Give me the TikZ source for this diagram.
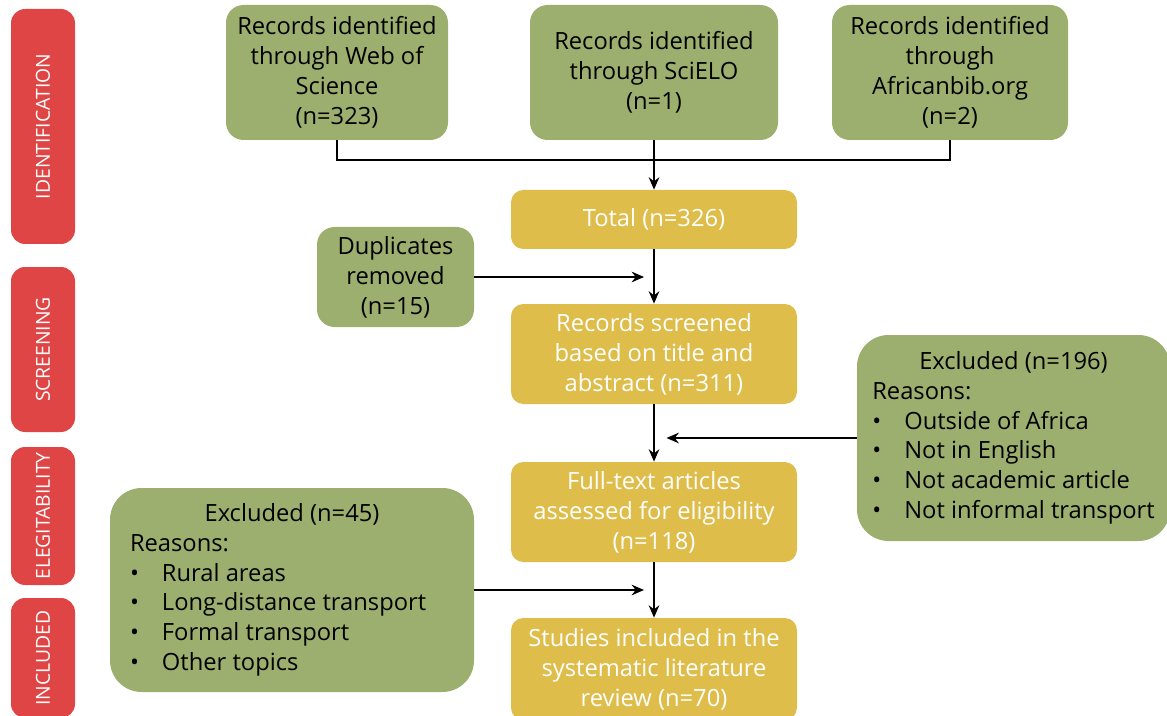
\documentclass[tikz,border=0pt]{standalone}
\usepackage{fontspec}
\setmainfont{Open Sans}
\usetikzlibrary{arrows.meta}
\definecolor{stagered}{HTML}{E04545}
\definecolor{boxgreen}{HTML}{9DAF6E}
\definecolor{boxyellow}{HTML}{DEBD4B}
\begin{document}
\begin{tikzpicture}[>={Stealth[length=7pt,width=6pt]}, font=\fontsize{13.5}{17}\selectfont,
  stage/.style={fill=stagered, rounded corners=8pt, minimum width=1.28cm, text=white,
    font=\fontsize{11}{13}\selectfont, inner sep=0pt},
  greenbox/.style={fill=boxgreen, rounded corners=10pt, align=center, inner sep=2pt},
  yellowbox/.style={fill=boxyellow, rounded corners=7pt, align=center, text=white,
    minimum width=5.72cm, inner sep=2pt},
  bigbox/.style={fill=boxgreen, rounded corners=18pt, inner sep=0pt},
  link/.style={line width=1.1pt}]
  \useasboundingbox (0,0) rectangle (23.34,-14.32);
  % stages
  \node[stage, minimum height=4.70cm] (idbar) at (0.86,-2.53) {\rotatebox{90}{IDENTIFICATION}};
  \node[stage, minimum height=3.30cm] (scrbar) at (0.86,-6.99) {\rotatebox{90}{SCREENING}};
  \node[stage, minimum height=2.76cm] (elbar) at (0.86,-10.32) {\rotatebox{90}{ELEGITABILITY}};
  \node[stage, minimum height=2.40cm] (incbar) at (0.86,-13.16) {\rotatebox{90}{INCLUDED}};
  % sources
  \node[greenbox, minimum width=4.44cm, minimum height=2.70cm] (wos) at (6.74,-1.45)
    {Records identified\\through Web of\\Science\\(n=323)};
  \node[greenbox, minimum width=4.96cm, minimum height=2.70cm] (scielo) at (13.08,-1.45)
    {Records identified\\through SciELO\\(n=1)};
  \node[greenbox, minimum width=4.72cm, minimum height=2.70cm] (afrib) at (19.0,-1.45)
    {Records identified\\through\\Africanbib.org\\(n=2)};
  % main flow
  \node[yellowbox, minimum height=1.18cm] (total) at (13.08,-4.39) {Total (n=326)};
  \node[greenbox, minimum width=3.14cm, minimum height=2.0cm] (dupl) at (7.91,-5.54)
    {Duplicates\\removed\\(n=15)};
  \node[yellowbox, minimum height=2.0cm] (screened) at (13.08,-7.08)
    {Records screened\\based on title and\\abstract (n=311)};
  \node[yellowbox, minimum height=2.0cm] (fulltext) at (13.08,-10.24)
    {Full-text articles\\assessed for eligibility\\(n=118)};
  \node[yellowbox, minimum height=2.04cm] (included) at (13.08,-13.38)
    {Studies included in the\\systematic literature\\review (n=70)};
  % exclusions
  \node[bigbox, minimum width=6.26cm, minimum height=4.12cm] (excl1) at (20.27,-8.76)
    {\begin{tabular}{@{}p{0.64cm}@{}l@{}}
      \multicolumn{2}{c}{Excluded (n=196)}\\
      \multicolumn{2}{@{}l}{Reasons:}\\
      \textbullet & Outside of Africa\\
      \textbullet & Not in English\\
      \textbullet & Not academic article\\
      \textbullet & Not informal transport
    \end{tabular}};
  \node[bigbox, minimum width=7.28cm, minimum height=4.08cm] (excl2) at (5.84,-11.8)
    {\begin{tabular}{@{}p{0.64cm}@{}p{5.84cm}@{}}
      \multicolumn{2}{c}{Excluded (n=45)}\\
      \multicolumn{2}{@{}l}{Reasons:}\\
      \textbullet & Rural areas\\
      \textbullet & Long-distance transport\\
      \textbullet & Formal transport\\
      \textbullet & Other topics\\
    \end{tabular}};
  % connectors
  \coordinate (join) at (13.08,-3.2);
  \draw[link] (wos.south) |- (join) -| (afrib.south);
  \draw[link, ->] (scielo.south) -- (total.north);
  \draw[link, ->] (total) -- (screened);
  \draw[link, ->] (dupl.east) -- ([xshift=-0.2cm]dupl.east -| total.south);
  \draw[link, ->] (screened) -- (fulltext);
  \draw[link, ->] (excl1.west) -- ([xshift=0.25cm]excl1.west -| total.south);
  \draw[link, ->] (fulltext) -- (included);
  \draw[link, ->] (excl2.east) -- ([xshift=-0.2cm]excl2.east -| total.south);
\end{tikzpicture}
\end{document}
